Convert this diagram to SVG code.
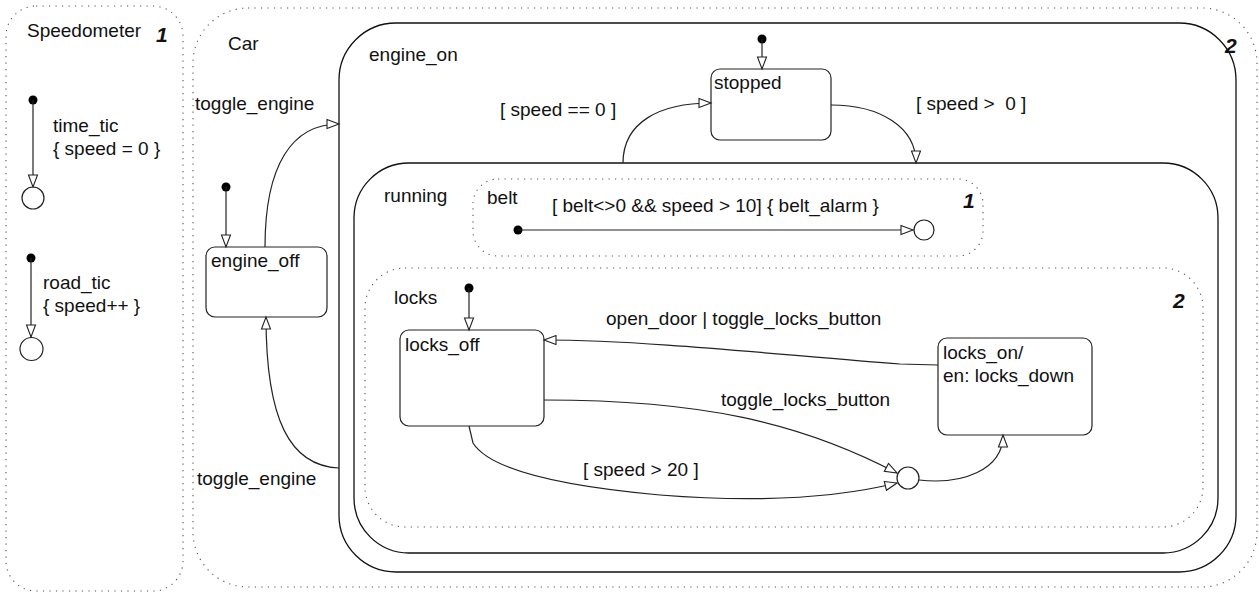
<svg xmlns="http://www.w3.org/2000/svg" width="1259" height="593" viewBox="0 0 1259 593">
<defs>
<style>
text{font-family:"Liberation Sans",Arial,sans-serif;font-size:19px;fill:#111}
.num{font-weight:bold;font-style:italic;font-size:21px}
.region{fill:none;stroke:#555;stroke-width:1.1;stroke-dasharray:1.2 5.3}
.solid{fill:none;stroke:#111;stroke-width:1.3}
.state{fill:#fff;stroke:#222;stroke-width:1.2}
.conn{fill:none;stroke:#222;stroke-width:1.2;marker-end:url(#arr)}
.dot{fill:#000}
.junc{fill:#fff;stroke:#222;stroke-width:1.2}
</style>
<marker id="arr" markerUnits="userSpaceOnUse" markerWidth="14" markerHeight="11" refX="12" refY="4.5" orient="auto" overflow="visible">
<path d="M0,0 L12,4.5 L0,9 Z" fill="#fff" stroke="#222" stroke-width="1.1"/>
</marker>
</defs>
<rect width="1259" height="593" fill="#fff"/>

<g id="speedometer">
<rect class="region" x="6" y="6" width="177" height="585" rx="30"/>
<text x="27" y="37">Speedometer</text>
<text class="num" x="156" y="42">1</text>
<circle class="junc" cx="33" cy="198" r="11"/>
<circle class="junc" cx="31.5" cy="349" r="11.5"/>
</g>

<g id="car">
<rect class="region" x="193" y="8" width="1064" height="579" rx="55"/>
<text x="228" y="50">Car</text>
</g>

<g id="engine_on">
<rect class="solid" x="339" y="23" width="897" height="549" rx="57"/>
<text x="369" y="61">engine_on</text>
<text class="num" x="1225" y="53">2</text>
</g>

<g id="running">
<rect class="solid" x="354" y="163" width="864" height="390" rx="55"/>
<text x="384" y="202">running</text>
</g>

<g id="belt">
<rect class="region" x="473" y="179" width="510" height="77" rx="25"/>
<text x="487" y="204">belt</text>
<text class="num" x="963" y="208">1</text>
<circle class="junc" cx="924" cy="230" r="10"/>
</g>

<g id="locks">
<rect class="region" x="365" y="268" width="838" height="259" rx="40"/>
<text x="394" y="304">locks</text>
<text class="num" x="1173" y="308">2</text>
</g>

<g id="engine_off">
<rect class="state" x="206" y="247" width="121" height="70" rx="9"/>
<text x="211" y="267">engine_off</text>
</g>

<g id="stopped">
<rect class="state" x="711" y="69" width="120" height="71" rx="9"/>
<text x="714" y="89">stopped</text>
</g>

<g id="locks_off">
<rect class="state" x="400" y="330" width="144" height="96" rx="9"/>
<text x="405" y="351">locks_off</text>
</g>

<g id="locks_on">
<rect class="state" x="938" y="338" width="154" height="97" rx="9"/>
<text x="943" y="359">locks_on/</text>
<text x="943" y="382">en: locks_down</text>
</g>

<g id="junction">
<circle class="junc" cx="908" cy="478" r="11"/>
</g>

<g id="connectors">
<circle class="dot" cx="33" cy="100" r="4.5"/>
<path class="conn" d="M33,100 L33,187" stroke="#666"/>
<text x="53" y="132">time_tic</text>
<text x="53" y="155">{ speed = 0 }</text>

<circle class="dot" cx="31" cy="258" r="4.5"/>
<path class="conn" d="M31,258 L31,337"/>
<text x="43" y="289">road_tic</text>
<text x="43" y="312">{ speed++ }</text>

<circle class="dot" cx="226" cy="187" r="4.5"/>
<path class="conn" d="M226,187 L226,247"/>

<path class="conn" d="M265,247 C265,165 292,124 339,124"/>
<text x="195" y="110">toggle_engine</text>

<path class="conn" d="M339,468 C290,466 266,420 266,317"/>
<text x="197" y="485">toggle_engine</text>

<circle class="dot" cx="762" cy="39" r="4.5"/>
<path class="conn" d="M762,39 L762,69"/>

<path class="conn" d="M623,163 C623,122 660,103 711,103"/>
<text x="500" y="116">[ speed == 0 ]</text>

<path class="conn" d="M831,105 C880,105 916,127 916,163"/>
<text x="916" y="110" xml:space="preserve">[ speed &gt;  0 ]</text>

<circle class="dot" cx="518" cy="230" r="4.5"/>
<path class="conn" d="M518,230 L913,230"/>
<text x="552" y="212">[ belt&lt;&gt;0 &amp;&amp; speed &gt; 10] { belt_alarm }</text>

<circle class="dot" cx="469" cy="288" r="4.5"/>
<path class="conn" d="M469,288 L469,330"/>

<path class="conn" d="M938,365 L900,364 C800,357 650,340 544,340"/>
<text x="606" y="325">open_door | toggle_locks_button</text>

<path class="conn" d="M544,400 C700,400 800,422 897,473"/>
<text x="721" y="406">toggle_locks_button</text>

<path class="conn" d="M469,426 L473,443 C490,470 560,486 660,495 C760,503 840,497 897,483"/>
<text x="583" y="476">[ speed &gt; 20 ]</text>

<path class="conn" d="M919,480 C962,485 1003,470 1003,435"/>
</g>
</svg>
